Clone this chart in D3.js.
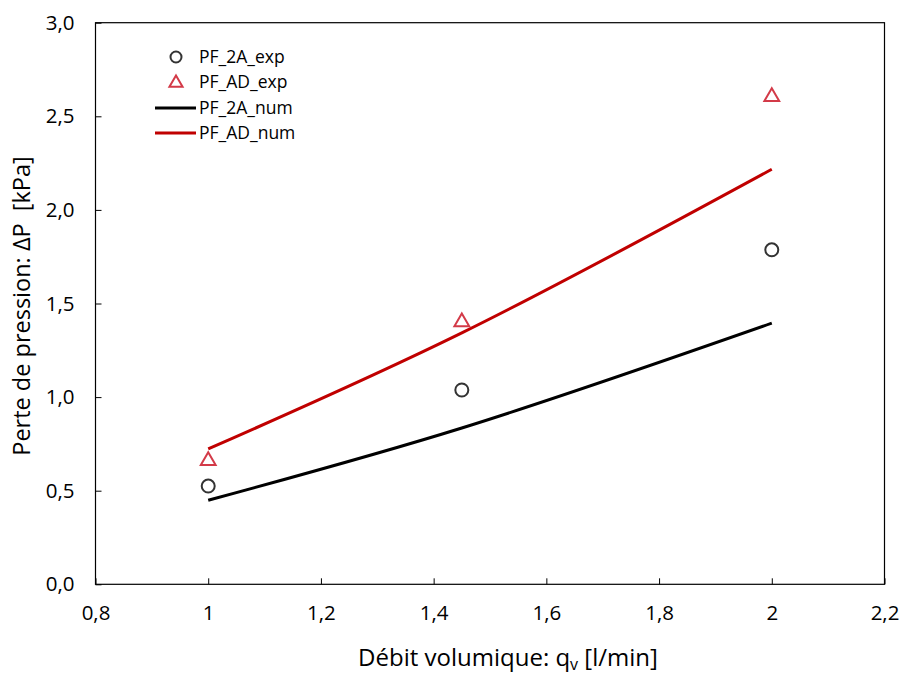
<!DOCTYPE html>
<html>
<head>
<meta charset="utf-8">
<script src="https://cdn.jsdelivr.net/npm/d3@7"></script>
<style>
body { margin: 0; background: #fff; }
text { font-family: "Open Sans", "Liberation Sans", sans-serif; fill: #000; white-space: pre; }
</style>
</head>
<body>
<svg id="chart" width="900" height="675"></svg>
<script>
const qv = [1, 1.45, 2];
const pf2aExp = [0.525, 1.038, 1.787];
const pfadExp = [0.665, 1.406, 2.61];
const pf2aNum = [0.449, 0.835, 1.395];
const pfadNum = [0.723, 1.343, 2.217];
const xTicks = [0.8, 1, 1.2, 1.4, 1.6, 1.8, 2, 2.2];
const yTicks = [0, 0.5, 1, 1.5, 2, 2.5, 3];
const legendLabels = ["PF_2A_exp", "PF_AD_exp", "PF_2A_num", "PF_AD_num"];

const svg = d3.select("#chart");
const mL = 95.5, mR = 884.5, mT = 22.7, mB = 584.3;
const x = d3.scaleLinear().domain([0.8, 2.2]).range([mL, mR]);
const y = d3.scaleLinear().domain([0, 3]).range([mB, mT]);

const fmtX = d => (d === 1 || d === 2) ? String(d) : d3.format(".1f")(d).replace(".", ",");
const fmtY = v => d3.format(".1f")(v).replace(".", ",");

// frame
svg.append("rect").attr("x", mL).attr("y", mT).attr("width", mR - mL).attr("height", mB - mT)
  .attr("fill", "none").attr("stroke", "#000").attr("stroke-width", 1.2);

const xAxis = svg.append("g").attr("transform", `translate(0,${mB})`).attr("font-size", 20.5)
  .call(d3.axisBottom(x).tickValues(xTicks).tickSizeInner(-6).tickSizeOuter(0).tickPadding(21).tickFormat(fmtX));
xAxis.attr("font-size", 20.5).attr("font-family", "'Open Sans', sans-serif");
xAxis.select(".domain").remove();
xAxis.selectAll("line").attr("stroke", "#000");

const yAxis = svg.append("g").attr("transform", `translate(${mL},0)`)
  .call(d3.axisLeft(y).tickValues(yTicks).tickSizeInner(-6).tickSizeOuter(0).tickPadding(21).tickFormat(fmtY));
yAxis.attr("font-size", 20.5).attr("font-family", "'Open Sans', sans-serif");
yAxis.select(".domain").remove();
yAxis.selectAll("line").attr("stroke", "#000");

// lines
const line = d3.line().x(d => x(d[0])).y(d => y(d[1])).curve(d3.curveCatmullRom.alpha(0.5));
svg.append("path").datum(qv.map((q, i) => [q, pf2aNum[i]])).attr("d", line)
  .attr("fill", "none").attr("stroke", "#000").attr("stroke-width", 3);
svg.append("path").datum(qv.map((q, i) => [q, pfadNum[i]])).attr("d", line)
  .attr("fill", "none").attr("stroke", "#c00000").attr("stroke-width", 3);

// markers
const tri = d3.symbol().type(d3.symbolTriangle).size(95);
svg.selectAll(".circ").data(qv).enter().append("circle")
  .attr("cx", d => x(d)).attr("cy", (d, i) => y(pf2aExp[i])).attr("r", 6.5)
  .attr("fill", "none").attr("stroke", "#333").attr("stroke-width", 2);
svg.selectAll(".tri").data(qv).enter().append("path")
  .attr("d", tri).attr("transform", (d, i) => `translate(${x(d)},${y(pfadExp[i]) + 1})`)
  .attr("fill", "none").attr("stroke", "#d33a48").attr("stroke-width", 2);

// legend
const lg = svg.append("g");
const ly = [57, 82, 108, 133];
lg.append("circle").attr("cx", 176).attr("cy", ly[0]).attr("r", 5.5).attr("fill", "none").attr("stroke", "#333").attr("stroke-width", 2);
lg.append("path").attr("d", d3.symbol().type(d3.symbolTriangle).size(75)).attr("transform", `translate(176,${ly[1] + 1})`)
  .attr("fill", "none").attr("stroke", "#d33a48").attr("stroke-width", 2);
lg.append("line").attr("x1", 155).attr("x2", 196).attr("y1", ly[2]).attr("y2", ly[2]).attr("stroke", "#000").attr("stroke-width", 3);
lg.append("line").attr("x1", 155).attr("x2", 196).attr("y1", ly[3]).attr("y2", ly[3]).attr("stroke", "#c00000").attr("stroke-width", 3);
legendLabels.forEach((t, i) => {
  lg.append("text").attr("x", 199).attr("y", ly[i]).attr("dy", "0.35em").attr("font-size", 17.5).text(t);
});

// axis titles
svg.append("text").attr("transform", "translate(30,306) rotate(-90)").attr("text-anchor", "middle")
  .attr("font-size", 23.5).text("Perte de pression: ΔP  [kPa]");
const xt = svg.append("text").attr("x", 508).attr("y", 666).attr("text-anchor", "middle").attr("font-size", 24);
xt.append("tspan").text("Débit volumique: q");
xt.append("tspan").attr("font-size", 16).attr("dy", 4).text("v");
xt.append("tspan").attr("dy", -4).text(" [l/min]");
</script>
</body>
</html>
